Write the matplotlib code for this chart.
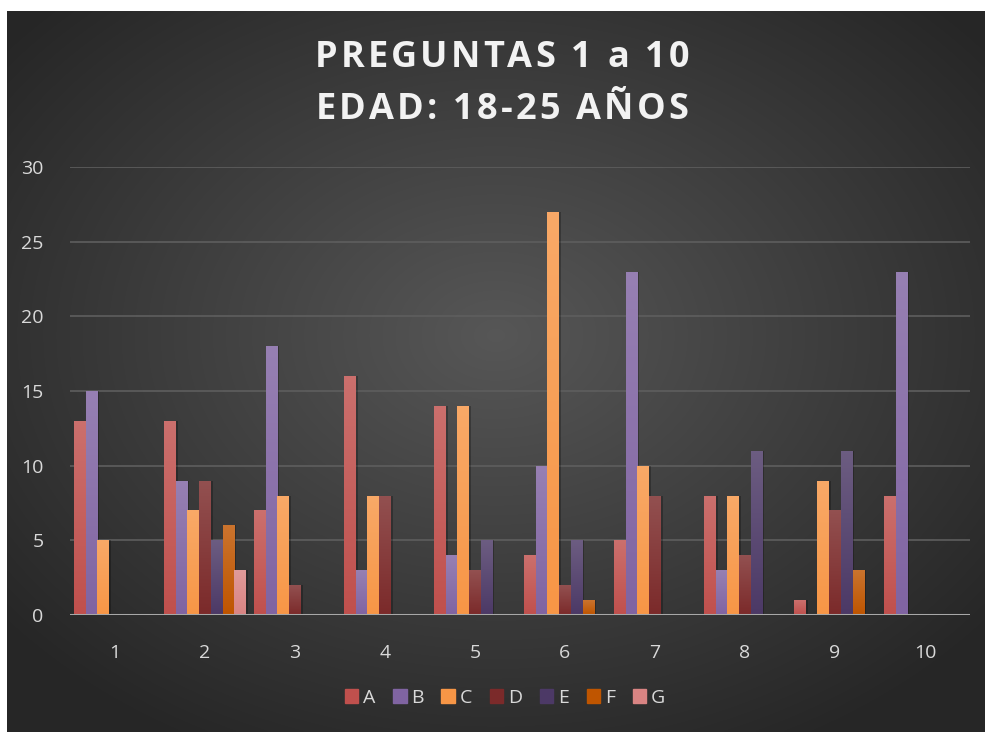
import numpy as np
import matplotlib
matplotlib.use("Agg")
import matplotlib.pyplot as plt
from matplotlib.colors import to_rgb

preguntas = ["1", "2", "3", "4", "5", "6", "7", "8", "9", "10"]
series = ["A", "B", "C", "D", "E", "F", "G"]
A = [13, 13, 7, 16, 14, 4, 5, 8, 1, 8]
B = [15, 9, 18, 3, 4, 10, 23, 3, 0, 23]
C = [5, 7, 8, 8, 14, 27, 10, 8, 9, 0]
D = [0, 9, 2, 8, 3, 2, 8, 4, 7, 0]
E = [0, 5, 0, 0, 5, 5, 0, 11, 11, 0]
F = [0, 6, 0, 0, 0, 1, 0, 0, 3, 0]
G = [0, 3, 0, 0, 0, 0, 0, 0, 0, 0]
valores = [A, B, C, D, E, F, G]
colores = ["#c0504d", "#8064a2", "#f79646", "#7b2a2a", "#4c3966", "#bf5500", "#d98483"]
titulo = ["PREGUNTAS 1 a 10", "EDAD: 18-25 AÑOS"]

plt.rcParams['font.family'] = ['Open Sans', 'DejaVu Sans']

W, H = 985, 732
fig = plt.figure(figsize=(W / 100, H / 100), dpi=100, facecolor="white")

# fondo con degradado radial
bg = fig.add_axes([7 / W, 0, (W - 7) / W, (H - 11) / H])
bg.set_axis_off()
yy, xx = np.mgrid[0:1:300j, 0:1:400j]
r = np.sqrt(((xx - 0.5) / 0.75) ** 2 + ((yy - 0.45) / 0.75) ** 2)
g = np.clip(0.34 - 0.22 * r, 0.15, 0.34)
img = np.dstack([g, g, g])
bg.imshow(img, extent=[0, 1, 0, 1], aspect="auto", interpolation="bilinear")
bg.set_xlim(0, 1)
bg.set_ylim(0, 1)

ax = fig.add_axes([70 / W, (H - 615) / H, 900 / W, 448 / H])
ax.patch.set_alpha(0)
x = np.arange(1, len(preguntas) + 1)
n = len(series)
w = 0.13

for i, (s, vals, col) in enumerate(zip(series, valores, colores)):
    pos = x + (i - (n - 1) / 2) * w
    bars = ax.bar(pos, vals, width=w, color=col, label=s, zorder=3)
    base = np.array(to_rgb(col))
    light = base + (1 - base) * 0.18
    grad = np.linspace(0, 1, 64)[:, None, None]
    gimg = light * (1 - grad) + base * grad
    for b, v in zip(bars, vals):
        if v <= 0:
            continue
        # sombra
        ax.bar(b.get_x() + b.get_width() / 2 + 0.02, v, width=w, color="black",
               alpha=0.25, zorder=2.5, linewidth=0)
        im = ax.imshow(gimg, extent=[b.get_x(), b.get_x() + b.get_width(), 0, v],
                       aspect="auto", zorder=3.1, interpolation="bilinear")
        im.set_clip_path(b)

ax.set_xlim(0.5, 10.5)
ax.set_ylim(0, 30)
ax.set_yticks(range(0, 31, 5))
ax.set_xticks(x)
ax.set_xticklabels(preguntas)
ax.grid(axis="y", color="#5e5e5e", linewidth=1.2, zorder=0)
ax.axhline(0, color="#a8a8a8", linewidth=2.2, zorder=4)
for sp in ax.spines.values():
    sp.set_visible(False)
ax.tick_params(axis="both", length=0, colors="#d9d9d9", labelsize=14)
ax.tick_params(axis="y", pad=19)
ax.tick_params(axis="x", pad=21)

# titulo con espaciado entre letras
renderer = fig.canvas.get_renderer()
def texto_espaciado(s, cx, cy, espacio, **kw):
    anchos = []
    for ch in s:
        t = fig.text(0, 0, ch, **kw)
        anchos.append(t.get_window_extent(renderer).width if ch != " " else None)
        t.remove()
    sp = fig.text(0, 0, "a a", **kw)
    wsp = sp.get_window_extent(renderer).width
    sp.remove()
    sa = fig.text(0, 0, "aa", **kw)
    wsp -= sa.get_window_extent(renderer).width
    sa.remove()
    anchos = [wsp if a is None else a for a in anchos]
    total = sum(anchos) + espacio * (len(s) - 1)
    xpix = cx - total / 2
    for ch, a in zip(s, anchos):
        fig.text(xpix / W, cy / H, ch, ha="left", va="center", **kw)
        xpix += a + espacio

estilo = dict(color="#f2f2f2", fontsize=26, fontweight="bold")
texto_espaciado(titulo[0], 502, H - 58, 3.2, **estilo)
texto_espaciado(titulo[1], 502, H - 110, 3.2, **estilo)

handles = [plt.Rectangle((0, 0), 1, 1, color=c) for c in colores]
leg = fig.legend(handles, series, loc="center", bbox_to_anchor=(505 / W, (H - 698) / H),
                 ncol=7, frameon=False, fontsize=14, handlelength=0.7, handleheight=0.7,
                 handletextpad=0.25, columnspacing=0.9, labelcolor="#d9d9d9")

fig.savefig("out.png", dpi=100, facecolor="white")
